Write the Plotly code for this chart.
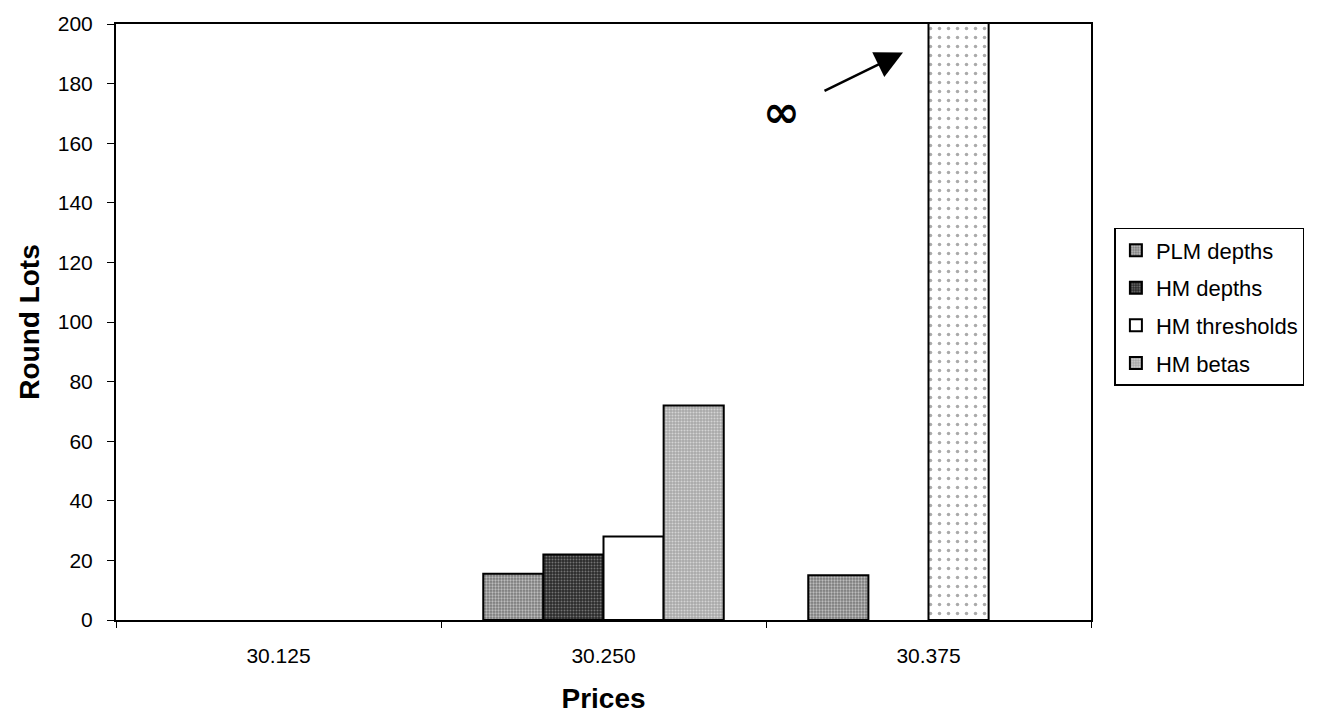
import plotly.graph_objects as go

# ---- data ----
prices = ["30.125", "30.250", "30.375"]
plm_depths = [0, 15.5, 15]
hm_depths = [0, 22, 0]
# the 30.375 threshold is infinite; it is drawn with a value far above the axis top
HM_INF = 10000
hm_thresholds = [0, 28, HM_INF]
hm_betas = [0, 72, 0]
y_ticks = list(range(0, 201, 20))

FONT = "Liberation Sans, Arial, sans-serif"

fig = go.Figure()


def shown(vals):
    # zero-height bars are not drawn (no outline on the baseline)
    return [v if v > 0 else None for v in vals]


line = dict(color="black", width=2)

fig.add_trace(go.Bar(
    name="PLM depths", x=prices, y=shown(plm_depths), legendgroup="a",
    marker=dict(color="#9a9a9a", line=line,
                pattern=dict(shape=".", fgcolor="#ffffff", bgcolor="#7a7a7a",
                             size=3, solidity=0.45)),
))
fig.add_trace(go.Bar(
    name="HM depths", x=prices, y=shown(hm_depths), legendgroup="b",
    marker=dict(color="#444444", line=line,
                pattern=dict(shape=".", fgcolor="#bbbbbb", bgcolor="#2a2a2a",
                             size=3, solidity=0.35)),
))
fig.add_trace(go.Bar(
    name="HM thresholds", x=prices, y=shown(hm_thresholds), legendgroup="c",
    marker=dict(color="white", line=line,
                pattern=dict(shape=["", "", "."], fgcolor="#555555", bgcolor="white",
                             size=9, solidity=0.12)),
))
fig.add_trace(go.Bar(
    name="HM betas", x=prices, y=shown(hm_betas), legendgroup="d",
    marker=dict(color="#cccccc", line=line,
                pattern=dict(shape=".", fgcolor="#ffffff", bgcolor="#a8a8a8",
                             size=3, solidity=0.4)),
))

fig.update_layout(
    width=1327, height=727,
    margin=dict(l=116, r=236, t=15, b=107),
    paper_bgcolor="white", plot_bgcolor="white",
    barmode="group", bargap=0.26, bargroupgap=0,
    font=dict(family=FONT, size=21, color="black"),
    showlegend=True,
    legend=dict(
        x=1.024, y=0.658, xanchor="left", yanchor="top",
        bordercolor="black", borderwidth=1.5,
        font=dict(family=FONT, size=22, color="black"),
        traceorder="grouped", tracegroupgap=6,
    ),
    xaxis=dict(
        type="category",
        showline=True, linecolor="black", linewidth=2, mirror=True,
        ticks="outside", ticklen=6, tickcolor="black", tickwidth=1,
        tickson="boundaries",
        ticklabelstandoff=16,
        showgrid=False,
        tickfont=dict(family=FONT, size=21),
        title=dict(text="<b>Prices</b>", font=dict(family=FONT, size=28), standoff=22),
    ),
    yaxis=dict(
        range=[0, 200],
        tickvals=y_ticks,
        showline=True, linecolor="black", linewidth=2, mirror=True,
        ticks="outside", ticklen=7, tickcolor="black", tickwidth=1,
        ticklabelstandoff=10,
        showgrid=False, zeroline=False,
        tickfont=dict(family=FONT, size=21),
        title=dict(text="<b>Round Lots</b>", font=dict(family=FONT, size=28), standoff=10),
    ),
)

# arrow pointing at the infinite threshold bar
fig.add_annotation(
    xref="paper", yref="paper",
    x=(903 - 116) / 975, y=(620 - 44) / 605,
    ax=-80, ay=39, axref="pixel", ayref="pixel",
    showarrow=True, arrowhead=2, arrowsize=2.2, arrowwidth=2.5, arrowcolor="black",
    text="",
)
fig.add_annotation(
    xref="paper", yref="paper",
    x=(781 - 116) / 975, y=(620 - 104) / 605,
    xanchor="center", yanchor="middle",
    text="<b>∞</b>", showarrow=False,
    font=dict(family="DejaVu Sans", size=44, color="black"),
)

fig.write_html("out.html")
